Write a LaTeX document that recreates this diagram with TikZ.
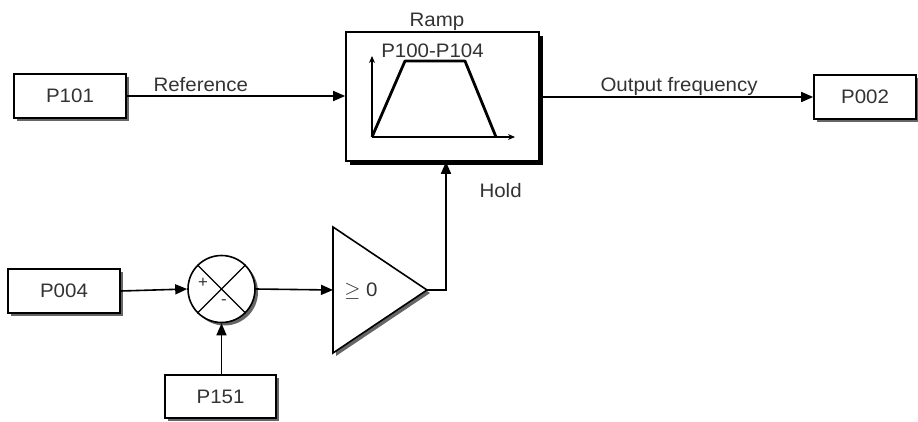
\documentclass[tikz,border=0pt]{standalone}
\usepackage{fontspec}
\setmainfont[FakeStretch=1.05]{Liberation Sans}
\usetikzlibrary{arrows.meta,shadows,calc}
\begin{document}
\begin{tikzpicture}[x=1pt,y=-1pt,
  txt/.style={font=\fontsize{19.5}{23}\selectfont, text=black!80},
  smalltxt/.style={font=\fontsize{16}{18}\selectfont, text=black!80},
  gshadow/.style={drop shadow={shadow xshift=3pt,shadow yshift=-3pt,fill=black!60,opacity=1}},
  pbox/.style={draw, line width=1.6pt, fill=white, minimum width=112pt, minimum height=44pt, inner sep=0pt, txt, gshadow},
  rampbox/.style={draw, line width=1.6pt, fill=white, minimum width=193pt, minimum height=129pt, inner sep=0pt,
    drop shadow={shadow xshift=4pt,shadow yshift=-4pt,fill=black,opacity=1}},
  sumnode/.style={circle, draw, line width=1.6pt, fill=white, minimum size=67pt, inner sep=0pt, gshadow},
  conn/.style={line width=1.6pt, -{Triangle[length=12pt,width=10pt]}},
  plain/.style={line width=1.6pt},
  axis/.style={line width=1.1pt, -{Stealth[length=7pt,width=6pt]}}
]
\useasboundingbox (0,0) rectangle (918,421);

% blocks
\node[pbox] (p101) at (70,96) {P101};
\node[pbox, minimum width=102pt] (p002) at (865,97) {P002};
\node[pbox] (p004) at (64,291) {P004};
\node[pbox, minimum width=111pt, minimum height=43pt] (p151) at (220.5,396.5) {P151};
\node[rampbox] (ramp) at (442.5,96.5) {};
\node[sumnode] (sum) at (221.5,289) {};

% comparator triangle
\coordinate (tritop) at (333,227);
\coordinate (tribot) at (333,353);
\coordinate (tritip) at (427,290);
\coordinate (trileft) at (333,290);
\fill[black!60] ($(tritop)+(3,3)$) -- ($(tribot)+(3,3)$) -- ($(tritip)+(3,3)$) -- cycle;
\filldraw[plain, fill=white, line join=miter] (tritop) -- (tribot) -- (tritip) -- cycle;
\node[txt] (cmp) at (361,291) {$\geq$ 0};

% summing junction cross and signs
\draw[line width=1.2pt] (sum.north west) -- (sum.south east);
\draw[line width=1.2pt] (sum.north east) -- (sum.south west);
\node[smalltxt] (plus) at (203,283) {+};
\node[smalltxt] (minus) at (224,302) {-};

% ramp contents
\coordinate (org) at (372,137);
\draw[axis] (org) -- (372,56);
\draw[axis] (org) -- (515,137);
\draw[line width=2.8pt, line join=round] (org) -- (405,61) -- (465,61) -- (496,137);
\node[txt, anchor=base] (rlab) at (432.5,57) {P100-P104};
\node[txt, anchor=base] (ramptitle) at (437,26) {Ramp};

% connectors
\draw[conn] (p101.east) -- (ramp.west |- p101.east);
\node[txt, anchor=base west] (reflab) at (150,91) {Reference};
\draw[conn] (ramp.east |- p002.west) -- (p002.west);
\node[txt, anchor=base west] (outlab) at (597,91) {Output frequency};
\draw[conn] (p004.east) -- (sum.west);
\draw[conn] (p151.north -| sum.south) -- (sum.south);
\draw[conn] (sum.east) -- (trileft);
\coordinate (holdc) at (446,290);
\draw[conn] (tritip) -- (holdc) -- (holdc |- ramp.south);
\node[txt, anchor=base west] (holdlab) at (476,197) {Hold};
\end{tikzpicture}
\end{document}
